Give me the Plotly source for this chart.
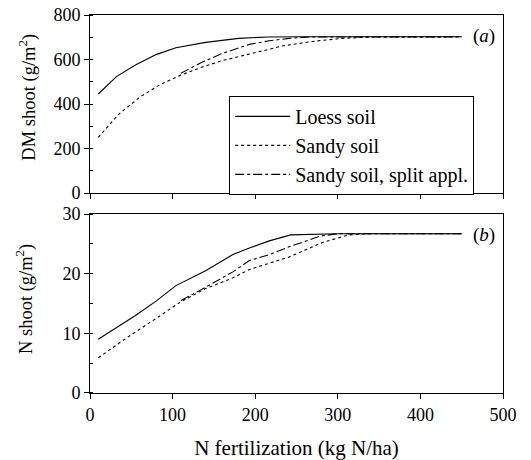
import plotly.graph_objects as go
from plotly.subplots import make_subplots

# (a) DM shoot (g/m2)
loess_dm_x = [10, 32, 55, 80, 104, 140, 180, 215, 260, 350, 450]
loess_dm_y = [445, 523, 575, 622, 653, 677, 695, 701, 702, 702, 702]
sandy_dm_x = [10, 35, 60, 85, 110, 135, 160, 193, 217, 233, 273, 305, 340, 450]
sandy_dm_y = [250, 355, 430, 488, 530, 565, 595, 623, 646, 661, 683, 695, 701, 702]
split_dm_x = [110, 133, 160, 193, 217, 241, 265, 350, 450]
split_dm_y = [538, 583, 627, 668, 684, 695, 701, 702, 702]

# (b) N shoot (g/m2)
loess_n_x = [10, 55, 80, 104, 140, 173, 193, 217, 243, 300, 450]
loess_n_y = [9.0, 13.0, 15.4, 18.0, 20.5, 23.2, 24.3, 25.5, 26.5, 26.7, 26.7]
sandy_n_x = [10, 45, 80, 110, 140, 173, 193, 217, 241, 281, 313, 340, 450]
sandy_n_y = [5.9, 9.3, 12.5, 15.3, 17.5, 19.3, 20.7, 21.8, 22.8, 25.2, 26.5, 26.7, 26.7]
split_n_x = [110, 133, 173, 193, 217, 241, 279, 300, 450]
split_n_y = [15.5, 17.2, 20.3, 22.2, 23.2, 24.5, 26.3, 26.7, 26.7]

FONT = "Times New Roman, Liberation Serif, DejaVu Serif, serif"

fig = make_subplots(rows=2, cols=1, shared_xaxes=False, vertical_spacing=0.055)

line_solid = dict(color="black", width=1.1, dash="solid")
line_dot = dict(color="black", width=1.1, dash="dot")
line_dd = dict(color="black", width=1.1, dash="dashdot")

fig.add_trace(go.Scatter(x=loess_dm_x, y=loess_dm_y, mode="lines", line=line_solid,
                         name="Loess soil"), row=1, col=1)
fig.add_trace(go.Scatter(x=sandy_dm_x, y=sandy_dm_y, mode="lines", line=line_dot,
                         name="Sandy soil"), row=1, col=1)
fig.add_trace(go.Scatter(x=split_dm_x, y=split_dm_y, mode="lines", line=line_dd,
                         name="Sandy soil, split appl."), row=1, col=1)

fig.add_trace(go.Scatter(x=loess_n_x, y=loess_n_y, mode="lines", line=line_solid,
                         showlegend=False), row=2, col=1)
fig.add_trace(go.Scatter(x=sandy_n_x, y=sandy_n_y, mode="lines", line=line_dot,
                         showlegend=False), row=2, col=1)
fig.add_trace(go.Scatter(x=split_n_x, y=split_n_y, mode="lines", line=line_dd,
                         showlegend=False), row=2, col=1)

axis_common = dict(showline=True, linecolor="black", linewidth=1, mirror=True,
                   ticks="outside", ticklen=5, tickcolor="black", showgrid=False,
                   zeroline=False, automargin=False,
                   tickfont=dict(family=FONT, size=18, color="black"))

fig.update_layout(
    template="none",
    width=531, height=460,
    margin=dict(l=90, r=28, t=15, b=67, pad=0),
    plot_bgcolor="white", paper_bgcolor="white",
    font=dict(family=FONT, size=18, color="black"),
    showlegend=True,
    legend=dict(x=0.337, y=0.786, xanchor="left", yanchor="top",
                bordercolor="black", borderwidth=1, bgcolor="white",
                font=dict(family=FONT, size=20, color="black"),
                tracegroupgap=0, itemwidth=55),
)

fig.update_xaxes(**axis_common, range=[0, 500], dtick=100)
fig.update_xaxes(showticklabels=False, row=1, col=1)
fig.update_xaxes(title=dict(text="N fertilization (kg N/ha)", standoff=20,
                            font=dict(family=FONT, size=21)), row=2, col=1)

fig.update_yaxes(**axis_common)
fig.update_yaxes(range=[0, 800], dtick=200,
                 minor=dict(dtick=100, ticks="inside", ticklen=3, tickcolor="black"),
                 row=1, col=1)
fig.update_yaxes(range=[0, 30], dtick=10,
                 minor=dict(dtick=5, ticks="inside", ticklen=3, tickcolor="black"),
                 row=2, col=1)

fig.update_layout(
    yaxis=dict(domain=[0.529, 1.0]),
    yaxis2=dict(domain=[0.0, 0.4735]),
)

# y-axis titles
fig.add_annotation(text="DM shoot (g/m<sup>2</sup>)", xref="paper", yref="paper",
                   x=-0.152, y=0.782, textangle=-90, showarrow=False,
                   xanchor="center", yanchor="middle",
                   font=dict(family=FONT, size=18.5, color="black"))
fig.add_annotation(text="N shoot (g/m<sup>2</sup>)", xref="paper", yref="paper",
                   x=-0.157, y=0.249, textangle=-90, showarrow=False,
                   xanchor="center", yanchor="middle",
                   font=dict(family=FONT, size=18.5, color="black"))

fig.add_annotation(text="(<i>a</i>)", xref="x domain", yref="y domain", x=0.985, y=0.88,
                   xanchor="right", yanchor="middle", showarrow=False,
                   font=dict(family=FONT, size=19, color="black"))
fig.add_annotation(text="(<i>b</i>)", xref="x2 domain", yref="y2 domain", x=0.985, y=0.885,
                   xanchor="right", yanchor="middle", showarrow=False,
                   font=dict(family=FONT, size=19, color="black"))

# remove the browser's default page margin so the figure sits at the window origin
fig.write_html("out.html", config={"displayModeBar": False},
               post_script="document.body.style.margin='0';")
